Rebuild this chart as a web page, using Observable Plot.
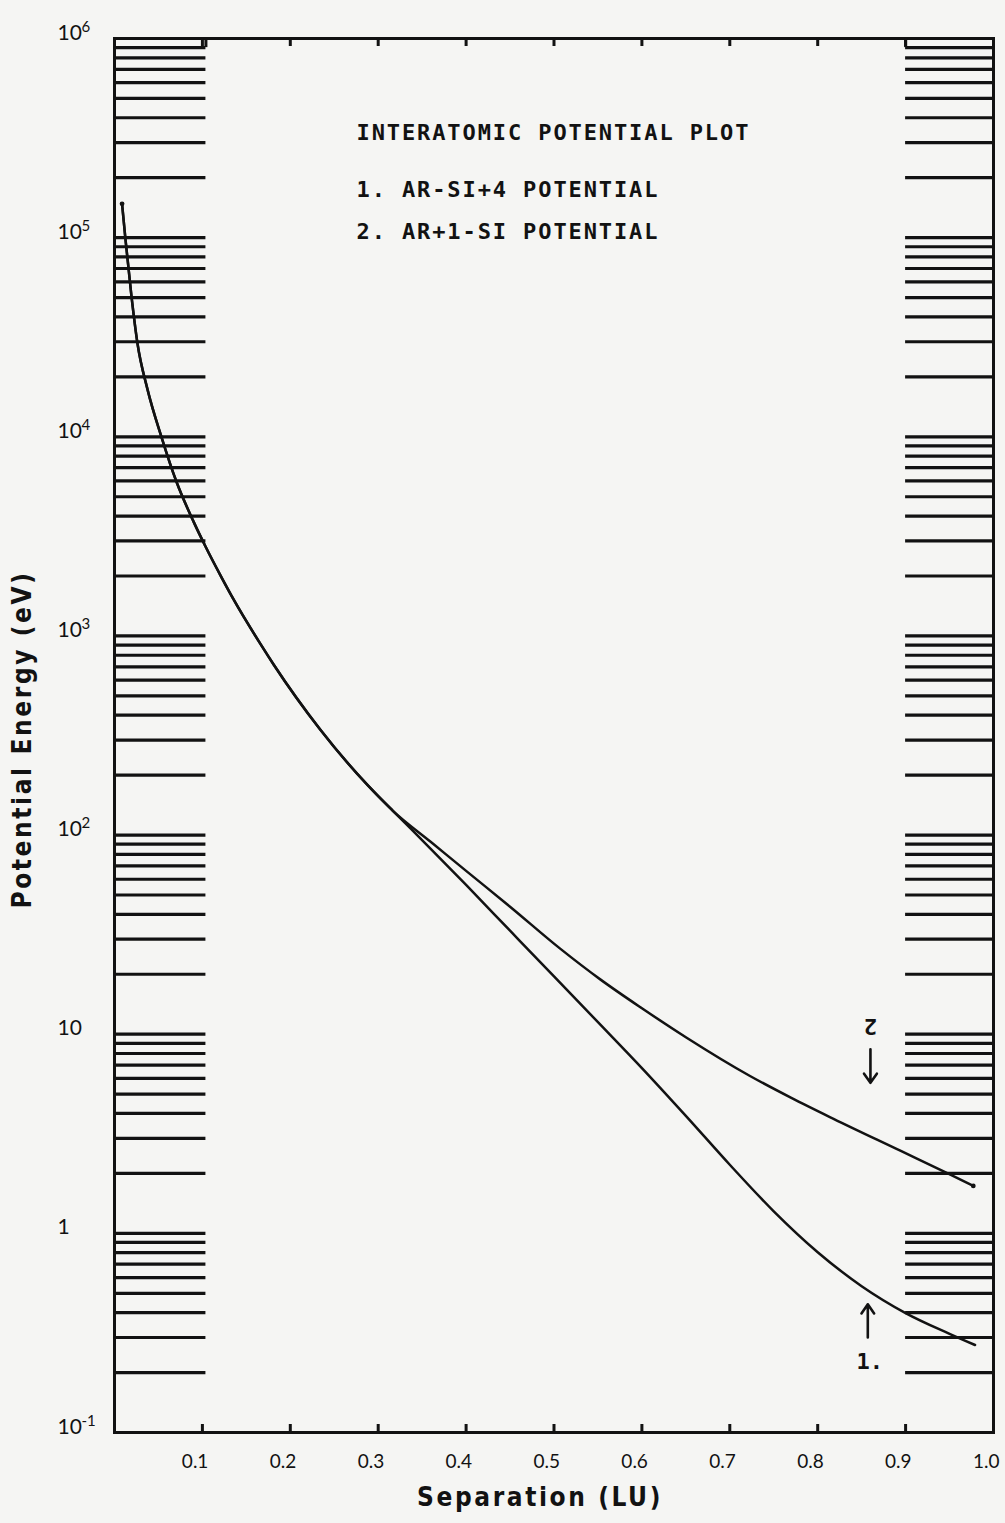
<!DOCTYPE html>
<html>
<head>
<meta charset="utf-8">
<script src="https://cdn.jsdelivr.net/npm/d3@7"></script>
<script src="https://cdn.jsdelivr.net/npm/@observablehq/plot@0.6"></script>
<style>
  body { margin: 0; background: #f5f5f3; }
  #chart svg { display: block; }
</style>
</head>
<body>
<div id="chart"></div>
<script>
// Curve 1: AR-SI+4 potential — separation (LU) vs potential energy (eV)
const sepArSi4 = [0.0086, 0.0124, 0.0192, 0.0261, 0.0374, 0.0541, 0.0704, 0.0898, 0.1034, 0.1228,
  0.1353, 0.166, 0.181, 0.234, 0.288, 0.317, 0.36, 0.40, 0.45, 0.50, 0.55, 0.60, 0.65,
  0.70, 0.75, 0.80, 0.85, 0.90, 0.95, 0.979];
const energyArSi4 = [147900, 98900, 51300, 29500, 17400, 9770, 5960, 3760, 2820, 1930,
  1530, 912, 719, 339, 178, 132, 85.1, 56.2, 33.1, 19.5, 11.5, 6.76, 3.89,
  2.21, 1.29, 0.804, 0.543, 0.398, 0.313, 0.275];

// Curve 2: AR+1-SI potential
const sepAr1Si = [0.0086, 0.0124, 0.0192, 0.0261, 0.0374, 0.0541, 0.0704, 0.0898, 0.1034, 0.1228,
  0.1353, 0.166, 0.181, 0.234, 0.288, 0.317, 0.36, 0.40, 0.45, 0.507, 0.553, 0.60, 0.65,
  0.723, 0.77, 0.818, 0.894, 0.948, 0.977];
const energyAr1Si = [147900, 98900, 51300, 29500, 17400, 9770, 5960, 3760, 2820, 1930,
  1530, 912, 719, 339, 178, 132, 92.3, 66.1, 43.7, 26.9, 18.8, 13.5, 9.66,
  6.17, 4.79, 3.76, 2.60, 2.00, 1.73];

// Axis ticks
const xTickValues = [0.1, 0.2, 0.3, 0.4, 0.5, 0.6, 0.7, 0.8, 0.9, 1.0];
const decadeExponents = [-1, 0, 1, 2, 3, 4, 5, 6];
const ladderMultipliers = [1, 2, 3, 4, 5, 6, 7, 8, 9];

// Text
const plotHeading = "INTERATOMIC POTENTIAL PLOT";
const keyLines = ["1. AR-SI+4 POTENTIAL", "2. AR+1-SI POTENTIAL"];
const curveTags = ["1.", "2"];
const xAxisTitle = "Separation (LU)";
const yAxisTitle = "Potential Energy (eV)";

// ---- layout ----
const W = 1005, H = 1523;
const mTop = 38, mBottom = 91, mLeft = 114, mRight = 12;
const frameH = H - mTop - mBottom;

const curves = [
  ...sepArSi4.map((s, i) => ({s, e: energyArSi4[i], id: 1})),
  ...sepAr1Si.map((s, i) => ({s, e: energyAr1Si[i], id: 2}))
];
// pen-down dots where the plotter started and finished
const penDots = [
  {s: sepAr1Si[0], e: energyAr1Si[0]},
  {s: sepAr1Si[sepAr1Si.length - 1], e: energyAr1Si[energyAr1Si.length - 1]}
];

// log "ladder" of guide rules at 1..9 × 10^k on both sides
const ladder = decadeExponents.slice(0, -1)
  .flatMap(k => ladderMultipliers.map(m => m * Math.pow(10, k)))
  .filter(v => v > 0.1);

const decadeBase = k => k === 0 ? "1" : "10";
const decadePower = k => (k === 0 || k === 1) ? "" : String(k);

const ink = "#121212";
const labelFont = "Lato, 'DejaVu Sans', sans-serif";
const titleFont = "'Liberation Sans Narrow', 'DejaVu Sans Condensed', 'Liberation Sans', sans-serif";
const plotterFont = "'DejaVu Sans Mono', 'Liberation Mono', monospace";

const headingMark = (text, dy) => Plot.text([text], {
  frameAnchor: "top-left", dx: 242, dy, textAnchor: "start", lineAnchor: "middle",
  text: d => d, fontSize: 22, fontWeight: "bold", fontFamily: plotterFont, fill: ink
});

const chart = Plot.plot({
  width: W,
  height: H,
  marginTop: mTop,
  marginBottom: mBottom,
  marginLeft: mLeft,
  marginRight: mRight,
  style: {background: "transparent", color: ink},
  x: {domain: [0, 1], axis: null},
  y: {type: "log", domain: [0.1, 1e6], axis: null},
  marks: [
    // guide ladders
    Plot.ruleY(ladder, {y: d => d, x1: 0, x2: 0.104, stroke: ink, strokeWidth: 3.2}),
    Plot.ruleY(ladder, {y: d => d, x1: 0.9, x2: 1, stroke: ink, strokeWidth: 3.2}),
    Plot.ruleX([0.104, 0.9], {x: d => d, y1: 9e5, y2: 1e6, stroke: ink, strokeWidth: 3}),
    Plot.frame({stroke: ink, strokeWidth: 3}),
    // inward ticks on bottom and top edges
    Plot.tickX(xTickValues.slice(0, -1), {x: d => d, insetTop: frameH - 8, stroke: ink, strokeWidth: 3}),
    Plot.tickX(xTickValues.slice(0, -1), {x: d => d, insetBottom: frameH - 8, stroke: ink, strokeWidth: 3}),
    // potential curves
    Plot.line(curves, {x: "s", y: "e", z: "id", curve: "monotone-x", stroke: ink, strokeWidth: 2.5}),
    Plot.dot(penDots, {x: "s", y: "e", r: 2.4, fill: ink, stroke: "none"}),
    // x tick labels
    Plot.text(xTickValues, {
      x: d => d, frameAnchor: "bottom", dy: 35, dx: 6, lineAnchor: "bottom", textAnchor: "end",
      text: d => d.toFixed(1), fontSize: 19, fontFamily: labelFont, fill: ink
    }),
    // y decade labels: base and raised exponent
    Plot.text(decadeExponents, {
      y: d => Math.pow(10, d), frameAnchor: "left", dx: -57, dy: 1, textAnchor: "start", lineAnchor: "bottom",
      text: decadeBase, fontSize: 21, fontFamily: labelFont, fill: ink
    }),
    Plot.text(decadeExponents, {
      y: d => Math.pow(10, d), frameAnchor: "left", dx: -33, dy: -7, textAnchor: "start", lineAnchor: "bottom",
      text: decadePower, fontSize: 15, fontFamily: labelFont, fill: ink
    }),
    // axis titles
    Plot.text([xAxisTitle], {
      frameAnchor: "bottom", dx: -14, dy: 73, textAnchor: "middle", text: d => d, fontSize: 26,
      fontWeight: "bold", fontFamily: titleFont, fill: ink
    }),
    Plot.text([yAxisTitle], {
      frameAnchor: "left", dx: -92, dy: 4, rotate: -90, textAnchor: "middle", text: d => d, fontSize: 26,
      fontWeight: "bold", fontFamily: titleFont, fill: ink
    }),
    // plot heading and key
    headingMark(plotHeading, 94),
    headingMark(keyLines[0], 151),
    headingMark(keyLines[1], 193),
    // curve identifiers with pointing arrows
    Plot.text([curveTags[1]], {x: 0.86, y: 11, text: d => d, rotate: 180, fontSize: 22, fontFamily: plotterFont, fontWeight: "bold", fill: ink}),
    Plot.arrow([0], {x1: 0.86, x2: 0.86, y1: 8.4, y2: 5.7, stroke: ink, strokeWidth: 2.6, headLength: 13, headAngle: 70}),
    Plot.arrow([0], {x1: 0.857, x2: 0.857, y1: 0.30, y2: 0.44, stroke: ink, strokeWidth: 2.6, headLength: 13, headAngle: 70}),
    Plot.text([curveTags[0]], {x: 0.857, y: 0.227, dx: 2, text: d => d, fontSize: 22, fontFamily: plotterFont, fontWeight: "bold", fill: ink})
  ]
});

// letter spacing: wide on the axis titles, looser on the plotter lettering
const svg = d3.select(chart);
svg.selectAll("text").filter(function() {
  return this.textContent === xAxisTitle || this.textContent === yAxisTitle;
}).style("letter-spacing", "2.6px");
svg.selectAll("text").filter(function() {
  return this.textContent === plotHeading || keyLines.includes(this.textContent);
}).style("letter-spacing", "1.9px");

document.getElementById("chart").appendChild(chart);
</script>
</body>
</html>
